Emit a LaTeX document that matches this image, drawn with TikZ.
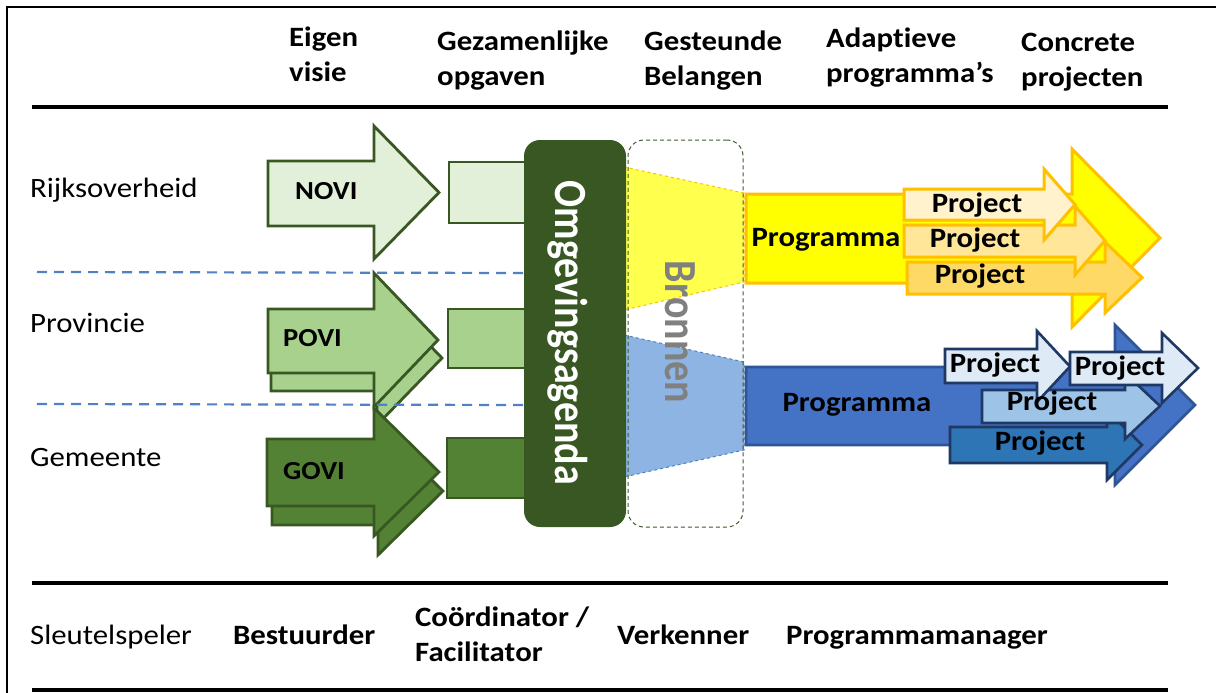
\documentclass[tikz,border=0pt]{standalone}
\usepackage{fontspec}
\setmainfont{Carlito}[FakeStretch=1.1, RawFeature={-liga;-clig}]
\newfontfamily\rotfont{Carlito}[RawFeature={-liga;-clig}]
\usepackage{graphicx}
\definecolor{dgreen}{HTML}{385723}
\definecolor{lgreen}{HTML}{E2F0D9}
\definecolor{mgreen}{HTML}{A9D18E}
\definecolor{ggreen}{HTML}{548235}
\definecolor{yfill}{HTML}{FFFF00}
\definecolor{ytrap}{HTML}{FFFF4D}
\definecolor{orng}{HTML}{FFC000}
\definecolor{yp1}{HTML}{FFF2CC}
\definecolor{yp2}{HTML}{FFE699}
\definecolor{yp3}{HTML}{FFD966}
\definecolor{btrap}{HTML}{8DB4E2}
\definecolor{bprog}{HTML}{4472C4}
\definecolor{bbord}{HTML}{2F5597}
\definecolor{navy}{HTML}{1F3864}
\definecolor{bp1}{HTML}{DEEBF7}
\definecolor{bp3}{HTML}{9DC3E6}
\definecolor{bp4}{HTML}{2E75B6}
\definecolor{dashblue}{HTML}{4F81C7}
\definecolor{grayt}{HTML}{808080}
\definecolor{boxdash}{HTML}{3E5A2E}
\newcommand{\arrowshape}[8]{\draw[#1] (#2,#3) -- (#5,#3) -- (#5,#6) -- (#8,{(#6+#7)/2}) -- (#5,#7) -- (#5,#4) -- (#2,#4) -- cycle;}
\begin{document}
\begin{tikzpicture}[x=1pt,y=-1pt,
  hdr/.style={font=\bfseries\fontsize{28}{35}\selectfont, align=left, anchor=north west, inner sep=0},
  lbl/.style={font=\fontsize{28}{34}\selectfont, anchor=base west, inner sep=0},
  blbl/.style={font=\bfseries\fontsize{28}{34}\selectfont, anchor=base west, inner sep=0},
  ptxt/.style={font=\bfseries\fontsize{28}{34}\selectfont, inner sep=0},
  vtxt/.style={font=\bfseries\fontsize{26}{30}\selectfont, inner sep=0},
  garrow/.style={draw=dgreen, line width=2.8, line join=miter},
  yarrow/.style={draw=orng, line width=3, line join=miter},
  barrow/.style={draw=navy, line width=2.6, line join=miter},
  sep/.style={line width=3.5, black},
  rowsep/.style={dashblue, line width=2.2, dash pattern=on 10pt off 7pt}
]
\useasboundingbox (0,0) rectangle (1216,693);
% frame
\draw[line width=2] (7,693) -- (7,7) -- (1216,7);
% separator lines
\coordinate (s1a) at (32,107); \coordinate (s1b) at (1168,107);
\coordinate (s2a) at (32,583); \coordinate (s2b) at (1168,583);
\coordinate (s3a) at (32,690); \coordinate (s3b) at (1168,690);
\draw[sep] (s1a) -- (s1b);
\draw[sep] (s2a) -- (s2b);
\draw[sep] (s3a) -- (s3b);
% headers
\node[hdr] (h1) at (289,27) {Eigen\\visie};
\node[hdr] (h2) at (437,31) {Gezamenlijke\\opgaven};
\node[hdr] (h3) at (644,31) {Gesteunde\\Belangen};
\node[hdr] (h4) at (826,28) {Adapt\kern0pt ieve\\programma’s};
\node[hdr] (h5) at (1021,33) {Concrete\\projecten};
% row labels
\node[lbl] (r1) at (30,197) {Rijksoverheid};
\node[lbl] (r2) at (30,332) {Provincie};
\node[lbl] (r3) at (30,466) {Gemeente};
% green rectangles
\draw[garrow, fill=lgreen] (449,162) rectangle (530,223);
\draw[garrow, fill=mgreen] (448,309) rectangle (530,368);
\draw[garrow, fill=ggreen] (447,438) rectangle (530,498);
% green arrows
\arrowshape{garrow, fill=lgreen}{268}{161}{226}{374}{126}{259}{439}
\arrowshape{garrow, fill=mgreen}{271}{327}{391}{377}{291}{425}{442}
\arrowshape{garrow, fill=mgreen}{268}{309}{373}{374}{273}{407}{438}
\arrowshape{garrow, fill=ggreen}{272}{458}{525}{378}{427}{555}{443}
\arrowshape{garrow, fill=ggreen}{267}{439}{506}{374}{408}{536}{439}
\node[vtxt, anchor=west] (novi) at (295,191) {NOVI};
\node[vtxt, anchor=west] (povi) at (283,338) {POVI};
\node[vtxt, anchor=west] (govi) at (283,471) {GOVI};
% dashed row separators
\coordinate (d1a) at (37,272); \coordinate (d1b) at (526,273);
\coordinate (d2a) at (37,404); \coordinate (d2b) at (526,405);
\draw[rowsep] (d1a) -- (d1b);
\draw[rowsep] (d2a) -- (d2b);
% trapezoids
\draw[fill=ytrap, draw=orng, line width=1, dashed] (624,167) -- (744,193) -- (744,282) -- (624,310) -- cycle;
\draw[fill=btrap, draw=dashblue, line width=1, dashed] (624,335) -- (744,362) -- (744,450) -- (624,477) -- cycle;
% Omgevingsagenda box
\node[draw=none, fill=dgreen, rounded corners=16, minimum width=102, minimum height=387, inner sep=0] (omg) at (575,333.5) {};
\node[font=\rotfont\bfseries\fontsize{40}{44}\selectfont, text=white, rotate=-90, inner sep=0] (omgt) at (568,333) {\scalebox{1}[1.15]{Omgevingsagenda}};
% Bronnen dashed box
\node[draw=boxdash, line width=1, dash pattern=on 4pt off 3pt, rounded corners=16, minimum width=115, minimum height=387, inner sep=0] (bron) at (685.5,333.5) {};
\node[font=\rotfont\bfseries\fontsize{40}{44}\selectfont, text=grayt, rotate=-90, inner sep=0] (bront) at (680,332) {\scalebox{1}[1.15]{Bronnen}};
% yellow programme
\arrowshape{yarrow, fill=yfill}{746}{194}{283}{1072}{149}{327}{1160}
\arrowshape{yarrow, fill=yp3}{907}{262}{294}{1105}{242}{313}{1142}
\arrowshape{yarrow, fill=yp2}{904}{225}{257}{1075}{206}{275}{1105}
\arrowshape{yarrow, fill=yp1}{904}{189}{220}{1044}{169}{240}{1075}
\node[ptxt] (yprog) at (826,240) {Programma};
\node[ptxt] (yp1t) at (977,205) {Project};
\node[ptxt] (yp2t) at (975,240) {Project};
\node[ptxt] (yp3t) at (980,276) {Project};
% blue programme
\arrowshape{draw=bbord, line width=2.6, line join=miter, fill=bprog}{746}{367}{445}{1115}{325}{485}{1195}
\arrowshape{barrow, fill=bp4}{950}{427}{463}{1107}{410}{480}{1142}
\arrowshape{barrow, fill=bp3}{982}{390}{423}{1125}{373}{439}{1160}
\arrowshape{barrow, fill=bp1}{945}{349}{383}{1037}{331}{402}{1070}
\arrowshape{barrow, fill=bp1}{1070}{352}{385}{1162}{333}{403}{1198}
\node[ptxt] (bprogt) at (857,405) {Programma};
\node[ptxt] (bp1t) at (995,365) {Project};
\node[ptxt] (bp2t) at (1120,368) {Project};
\node[ptxt] (bp3t) at (1052,403) {Project};
\node[ptxt] (bp4t) at (1040,443) {Project};
% bottom row
\node[lbl] (k0) at (30,644) {Sleutelspeler};
\node[blbl] (k1) at (233,644) {Bestuurder};
\node[hdr] (k2) at (415,607) {Coördinat\kern0pt or /\\Facilitat\kern0pt or};
\node[blbl] (k3) at (617,644) {Verkenner};
\node[blbl] (k4) at (786,644) {Programmamanager};
\end{tikzpicture}
\end{document}
